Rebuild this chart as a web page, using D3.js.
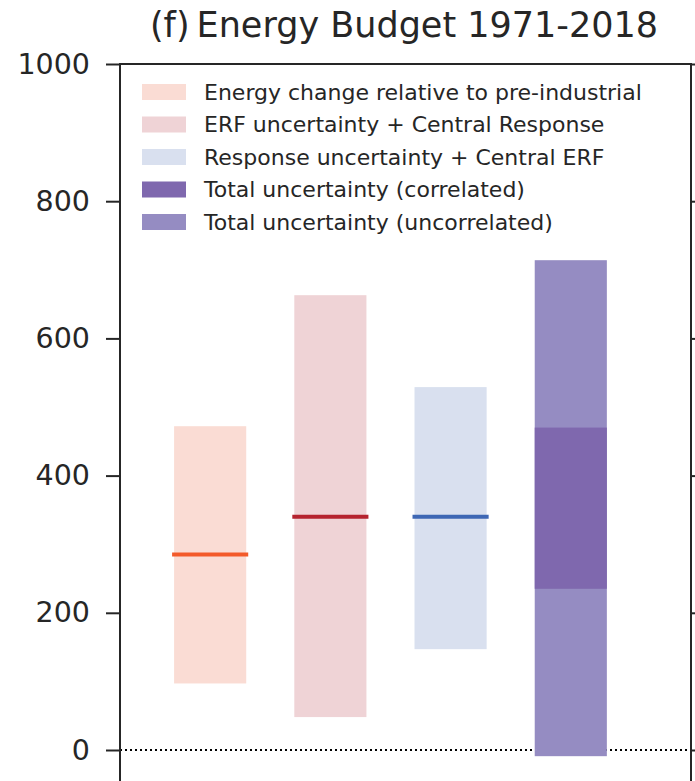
<!DOCTYPE html>
<html>
<head>
<meta charset="utf-8">
<script src="https://cdn.jsdelivr.net/npm/d3@7"></script>
<style>
  html, body { margin: 0; padding: 0; background: #ffffff; }
  svg { display: block; }
  text { font-family: "DejaVu Sans", sans-serif; fill: #262626; }
</style>
</head>
<body>
<svg id="chart" width="695" height="781"></svg>
<script>
// Energy budget ranges (ZJ), 1971-2018
const categories = ["Energy change", "ERF uncertainty", "Response uncertainty", "Total uncertainty"];
const xPositions = [1, 2, 3, 4];
const rangeLow  = [97, 48, 147, -9];
const rangeHigh = [472, 663, 529, 714];
const central   = [285, 340, 340, null];
const correlatedLow  = [235];
const correlatedHigh = [470];
const fillColors = ["#fadcd4", "#efd3d6", "#d9e0ef", "#958cc2"];
const lineColors = ["#f35a2a", "#b5232f", "#3e67b4", null];
const correlatedColor = "#7f68ae";
const yTicks = [0, 200, 400, 600, 800, 1000];
const legendLabels = [
  "Energy change relative to pre-industrial",
  "ERF uncertainty + Central Response",
  "Response uncertainty + Central ERF",
  "Total uncertainty (correlated)",
  "Total uncertainty (uncorrelated)"
];
const legendColors = ["#fadcd4", "#efd3d6", "#d9e0ef", "#7f68ae", "#958cc2"];
const titleText = "(f)\u2009Energy Budget 1971-2018";

const W = 695, H = 781;
const plot = { left: 120, right: 691, top: 64, zeroY: 750 };
const barWidth = 0.6;

const svg = d3.select("#chart");

const x = d3.scaleLinear().domain([0.25, 5]).range([plot.left, plot.right]);
const y = d3.scaleLinear().domain([0, 1000]).range([plot.zeroY, plot.top]);

// clip region for the plotting area (it runs past the bottom of the frame)
svg.append("defs").append("clipPath").attr("id", "plotClip")
  .append("rect")
  .attr("x", plot.left).attr("y", plot.top)
  .attr("width", plot.right - plot.left).attr("height", H - plot.top);

const g = svg.append("g").attr("clip-path", "url(#plotClip)");

// zero reference line
g.append("line")
  .attr("x1", plot.left).attr("x2", plot.right)
  .attr("y1", y(0)).attr("y2", y(0))
  .attr("stroke", "#000").attr("stroke-width", 2)
  .attr("stroke-dasharray", "2,3");

// uncertainty ranges
g.selectAll("rect.range")
  .data(categories)
  .join("rect")
  .attr("class", "range")
  .attr("x", (d, i) => x(xPositions[i] - barWidth / 2))
  .attr("width", (d, i) => x(xPositions[i] + barWidth / 2) - x(xPositions[i] - barWidth / 2))
  .attr("y", (d, i) => y(rangeHigh[i]))
  .attr("height", (d, i) => y(rangeLow[i]) - y(rangeHigh[i]))
  .attr("fill", (d, i) => fillColors[i]);

// correlated total uncertainty, drawn over the last column
g.selectAll("rect.corr")
  .data(correlatedLow)
  .join("rect")
  .attr("class", "corr")
  .attr("x", x(xPositions[3] - barWidth / 2))
  .attr("width", x(xPositions[3] + barWidth / 2) - x(xPositions[3] - barWidth / 2))
  .attr("y", (d, i) => y(correlatedHigh[i]))
  .attr("height", (d, i) => y(correlatedLow[i]) - y(correlatedHigh[i]))
  .attr("fill", correlatedColor);

// central estimates
g.selectAll("line.central")
  .data(categories.filter((d, i) => central[i] !== null))
  .join("line")
  .attr("class", "central")
  .each(function(d) {
    const i = categories.indexOf(d);
    d3.select(this)
      .attr("x1", x(xPositions[i] - barWidth / 2))
      .attr("x2", x(xPositions[i] + barWidth / 2))
      .attr("y1", y(central[i])).attr("y2", y(central[i]))
      .attr("stroke", lineColors[i])
      .attr("stroke-width", 4)
      .attr("stroke-linecap", "square");
  });

// spines
const spineColor = "#262626";
svg.append("line")
  .attr("x1", plot.left - 1).attr("x2", plot.right + 1)
  .attr("y1", plot.top).attr("y2", plot.top)
  .attr("stroke", spineColor).attr("stroke-width", 2);
svg.append("line")
  .attr("x1", plot.left).attr("x2", plot.left)
  .attr("y1", plot.top).attr("y2", H)
  .attr("stroke", spineColor).attr("stroke-width", 2);
svg.append("line")
  .attr("x1", plot.right).attr("x2", plot.right)
  .attr("y1", plot.top).attr("y2", H)
  .attr("stroke", spineColor).attr("stroke-width", 2);

// left axis
const yAxis = d3.axisLeft(y).tickValues(yTicks).tickSize(14).tickPadding(16).tickFormat(d3.format("d"));
const ya = svg.append("g").attr("transform", `translate(${plot.left},0)`).call(yAxis);
ya.select(".domain").remove();
ya.selectAll(".tick line").attr("stroke", spineColor).attr("stroke-width", 2);
ya.selectAll(".tick text")
  .attr("font-size", 28.5)
  .attr("font-family", "DejaVu Sans, sans-serif")
  .attr("fill", "#262626");

// right axis ticks (labels hidden)
const yAxisR = d3.axisRight(y).tickValues(yTicks).tickSize(14).tickFormat("");
const yr = svg.append("g").attr("transform", `translate(${plot.right},0)`).call(yAxisR);
yr.select(".domain").remove();
yr.selectAll(".tick line").attr("stroke", spineColor).attr("stroke-width", 2);

// title
svg.append("text")
  .attr("x", 404).attr("y", 37)
  .attr("text-anchor", "middle")
  .attr("font-size", 35)
  .text(titleText);

// legend
const legend = svg.append("g").attr("transform", "translate(142,84)");
const rowH = 32.5;
legendLabels.forEach((lab, i) => {
  legend.append("rect")
    .attr("x", 0).attr("y", i * rowH)
    .attr("width", 44).attr("height", 16)
    .attr("fill", legendColors[i]);
  legend.append("text")
    .attr("x", 62).attr("y", i * rowH + 8)
    .attr("dy", "0.36em")
    .attr("font-size", 22)
    .text(lab);
});
</script>
</body>
</html>
